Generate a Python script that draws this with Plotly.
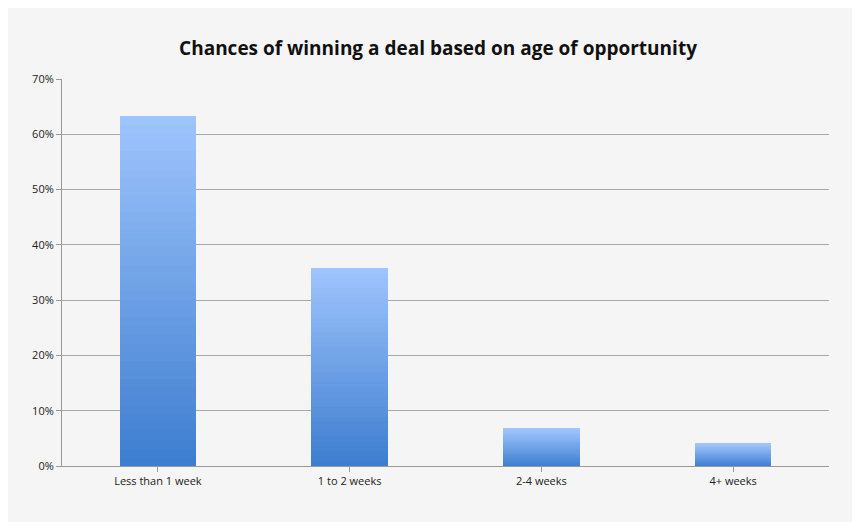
import plotly.graph_objects as go

categories = ["Less than 1 week", "1 to 2 weeks", "2-4 weeks", "4+ weeks"]
win_rate = [0.633, 0.358, 0.067, 0.040]
y_ticks = [0, 0.1, 0.2, 0.3, 0.4, 0.5, 0.6, 0.7]
y_labels = ["0%", "10%", "20%", "30%", "40%", "50%", "60%", "70%"]

N = 40
dark = (62, 126, 208)
light = (158, 196, 252)
fig = go.Figure()
for i in range(N):
    t = i / (N - 1)
    c = tuple(round(dark[k] + (light[k] - dark[k]) * t) for k in range(3))
    fig.add_trace(go.Bar(
        x=categories, y=[v / N for v in win_rate], width=0.4,
        marker=dict(color="rgb(%d,%d,%d)" % c, line=dict(width=0)),
        showlegend=False, hoverinfo="skip"))

fig.update_layout(
    barmode="stack", bargap=0,
    width=860, height=522,
    paper_bgcolor="#f5f5f5", plot_bgcolor="#f5f5f5",
    margin=dict(l=54, r=39, t=71, b=64),
    title=dict(text="<b>Chances of winning a deal based on age of opportunity</b>",
               x=0.5, xanchor="center", y=0.923, yanchor="middle",
               font=dict(family="Open Sans", size=19, color="#111")),
    font=dict(family="Open Sans", size=11, color="#222"),
    xaxis=dict(showline=True, linecolor="#999", ticks="outside", ticklen=5,
               tickcolor="#999", showgrid=False),
    yaxis=dict(range=[0, 0.7], tickvals=y_ticks, ticktext=y_labels,
               showgrid=True, gridcolor="#a8a8a8", zeroline=False,
               showline=True, linecolor="#999", ticks="outside", ticklen=5,
               tickcolor="#999"),
)
fig.write_html("out.html")
